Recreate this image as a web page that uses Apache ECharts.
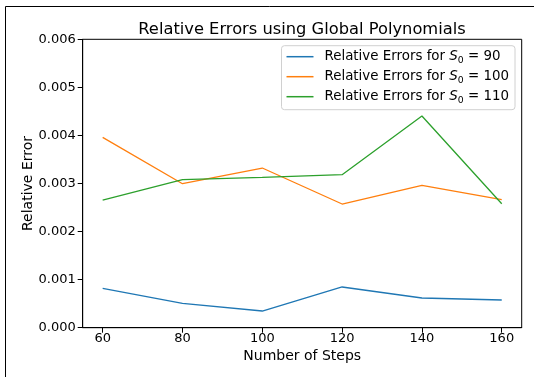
<!DOCTYPE html>
<html>
<head>
<meta charset="utf-8">
<script src="https://cdn.jsdelivr.net/npm/echarts@6/dist/echarts.min.js"></script>
<style>html,body{margin:0;padding:0;background:#fff;}#c{width:534px;height:377px;}</style>
</head>
<body>
<div id="c"></div>
<script>
const steps = [60, 80, 100, 120, 140, 160];
const errS90 = [0.000820, 0.000507, 0.000347, 0.000847, 0.000618, 0.000576];
const errS100 = [0.003960, 0.002996, 0.003322, 0.002573, 0.002962, 0.002663];
const errS110 = [0.002656, 0.003079, 0.003128, 0.003183, 0.004404, 0.002580];
const xTicks = [60, 80, 100, 120, 140, 160];
const seriesNames = ['Relative Errors for {i|S}{s|0} = 90', 'Relative Errors for {i|S}{s|0} = 100', 'Relative Errors for {i|S}{s|0} = 110'];
const colors = ['#1f77b4', '#ff7f0e', '#2ca02c'];
const allData = [errS90, errS100, errS110];

const font = 'DejaVu Sans';
const chart = echarts.init(document.getElementById('c'), null, {renderer: 'canvas'});
chart.setOption({
  animation: false,
  backgroundColor: '#fff',
  textStyle: {fontFamily: font},
  title: {
    text: 'Relative Errors using Global Polynomials',
    left: 297, top: 17, textAlign: 'center',
    textStyle: {fontFamily: font, fontSize: 16.3, fontWeight: 'normal', color: '#000'}
  },
  grid: {left: 82.7, right: 12.3, top: 39.3, bottom: 49.3, show: true, borderColor: '#000', borderWidth: 1, backgroundColor: 'transparent'},
  legend: {
    orient: 'vertical', right: 19, top: 45.7, align: 'left',
    data: seriesNames,
    icon: 'rect', itemWidth: 27, itemHeight: 1.5, itemGap: 4,
    padding: [3, 6, 5, 5],
    borderColor: '#d0d0d0', borderWidth: 1, borderRadius: 3, backgroundColor: 'rgba(255,255,255,0.8)',
    textStyle: {
      fontFamily: font, fontSize: 13.4, color: '#000', lineHeight: 16, padding: [0, 0, 0, 6],
      rich: {
        i: {fontFamily: font, fontSize: 13.4, fontStyle: 'italic', color: '#000', lineHeight: 16},
        s: {fontFamily: font, fontSize: 9.3, color: '#000', lineHeight: 6, verticalAlign: 'bottom'}
      }
    }
  },
  xAxis: {
    type: 'value', min: 55, max: 165,
    name: 'Number of Steps', nameLocation: 'middle', nameGap: 20,
    nameTextStyle: {fontFamily: font, fontSize: 14, color: '#000'},
    axisLine: {show: true, onZero: false, lineStyle: {color: '#000', width: 1}},
    axisTick: {show: true, length: 5, customValues: xTicks, lineStyle: {color: '#000'}},
    axisLabel: {customValues: xTicks, fontFamily: font, fontSize: 13, color: '#000', margin: 4},
    splitLine: {show: false}
  },
  yAxis: {
    type: 'value', min: 0, max: 0.006, interval: 0.001,
    name: 'Relative Error', nameLocation: 'middle', nameGap: 47, nameMoveOverlap: false,
    nameTextStyle: {fontFamily: font, fontSize: 14, color: '#000'},
    axisLine: {show: true, lineStyle: {color: '#000', width: 1}},
    axisTick: {show: true, length: 5, lineStyle: {color: '#000'}},
    axisLabel: {fontFamily: font, fontSize: 13, color: '#000', margin: 7, formatter: v => v.toFixed(3)},
    splitLine: {show: false}
  },
  series: allData.map((d, k) => ({
    name: seriesNames[k], type: 'line', symbol: 'none', showSymbol: false,
    data: steps.map((s, j) => [s, d[j]]),
    lineStyle: {color: colors[k], width: 1.3},
    itemStyle: {color: colors[k]}
  })),
  graphic: [{
    type: 'polyline', silent: true,
    shape: {points: [[5.5, 377], [5.5, 6.5], [534, 6.5]]},
    style: {stroke: '#000', lineWidth: 1, fill: null}
  }]
});
</script>
</body>
</html>
